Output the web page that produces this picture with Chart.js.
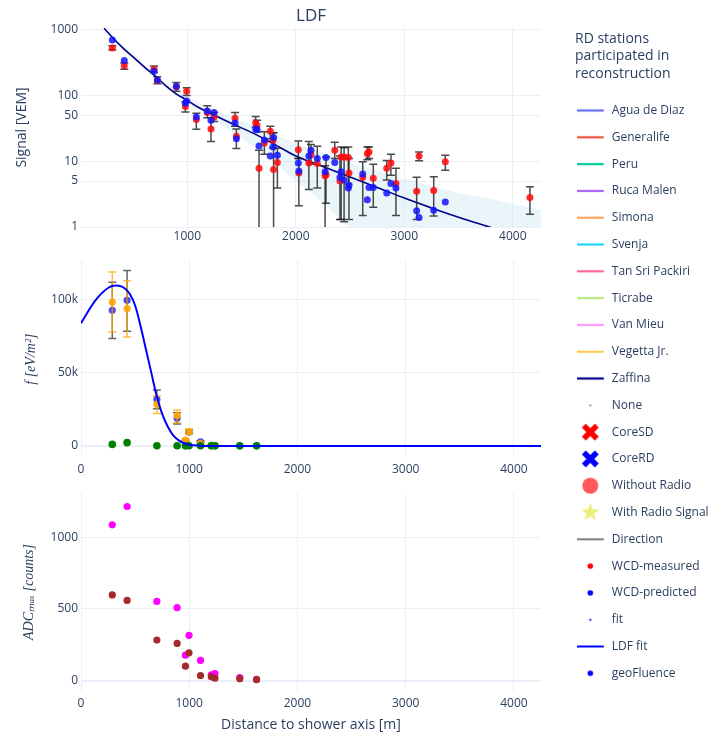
<!DOCTYPE html>
<html lang="en">
<head>
<meta charset="UTF-8">
<title>LDF</title>
<script src="https://cdn.jsdelivr.net/npm/chart.js"></script>
<style>
  body { margin: 0; background: #fff; }
  #wrap { position: relative; width: 712px; height: 735px; }
  #wrap canvas { position: absolute; }
</style>
</head>
<body>
<div id="wrap">
  <canvas id="ldfChart" width="555" height="250" style="left:0px;top:0px"></canvas>
  <canvas id="fluenceChart" width="555" height="230" style="left:0px;top:250px"></canvas>
  <canvas id="adcChart" width="555" height="255" style="left:0px;top:480px"></canvas>
  <canvas id="legendChart" width="157" height="735" style="left:555px;top:0px"></canvas>
</div>
<script>
// --- LDF panel: WCD signals vs distance (log y)
const wcdDist      = [309, 419, 693, 724, 899, 982, 994, 1083, 1184, 1218, 1246, 1440, 1452, 1630, 1643, 1661, 1710, 1765, 1790, 1795, 1830, 2023, 2028, 2120, 2140, 2198, 2270, 2278, 2359, 2407, 2418, 2445, 2484, 2490, 2617, 2659, 2675, 2714, 2838, 2877, 2923, 3114, 3136, 3271, 3378, 4158];
const wcdMeasured  = [528, 282, 251, 168, 135, 68, 116, 43, 55, 31, 47, 45, 24, 38.5, 35, 7.8, 19, 28.5, 20.7, 7.5, 9.6, 15, 6.6, 9.4, 12.5, 9.2, 6.0, 6.3, 14.7, 5.0, 11.6, 11.6, 11.4, 6.6, 5.7, 13.1, 13.8, 5.5, 7.8, 9.4, 4.6, 3.5, 12, 3.6, 9.8, 2.8];
const wcdErrLow    = [490, 250, 225, 151, 116, 56, 100, 30.5, 46, 20, 40, 34, 15.6, 33, 28, 0.1, 12.8, 22, 16, 0.1, 3.9, 11, 2.1, 3.7, 9, 3.9, 0.1, 2.3, 11, 1.3, 1.3, 1.2, 4.5, 1.3, 1.5, 10.5, 11, 2.0, 5.2, 6.1, 1.5, 1.3, 10.2, 1.47, 7.3, 1.56];
const wcdErrHigh   = [570, 310, 280, 193, 157, 80, 131, 53.5, 70, 46, 55, 55, 31, 48, 42, 14.7, 28, 34, 27, 27, 15.8, 20.3, 11, 20, 18, 16.9, 8.5, 11.6, 19.5, 12, 16.5, 16, 16.5, 11, 9.8, 16.5, 16.5, 9.0, 10.3, 12.8, 7.8, 5.7, 13.8, 5.8, 12.3, 4.1];
const wcdPredicted = [698, 339, 234, 172, 138, 76, 82, 47, 58, 42, 55, 38, 22, 31, 30, 17, 21, 12, 16.5, 23, 12.3, 9.4, 7.1, 12, 14.7, 11, 6.9, 11.4, 9.6, 5.7, 6.9, 5.2, 3.9, 4.3, 6.4, 2.6, 4.0, 4.0, 3.3, 4.6, 3.9, 1.77, 1.4, 1.8, 2.4, null];

const fitDist   = [233, 300, 400, 500, 600, 700, 800, 900, 1000, 1100, 1250, 1400, 1600, 1800, 2000, 2250, 2500, 2750, 3000, 3250, 3500, 3800];
const fitSignal = [1050, 794, 537, 385, 275, 200, 141, 105, 84, 66, 50, 38, 27, 18.2, 12, 8.3, 5.75, 4.0, 2.75, 1.95, 1.41, 0.98];

const bandDist  = [233, 300, 500, 750, 1000, 1250, 1500, 1750, 2000, 2250, 2500, 2750, 3000, 3250, 3500, 3750, 4000, 4260];
const bandUpper = [1070, 832, 412, 184, 96.6, 60.3, 41.2, 28.5, 18.6, 13.5, 9.8, 7.2, 5.4, 4.2, 3.3, 2.75, 2.24, 1.82];
const bandLower = [1030, 759, 359, 153, 73.3, 40.7, 22.6, 11.1, 5.0, 2.34, 0.95, 0.4, 0.16, 0.1, 0.1, 0.1, 0.1, 0.1];

const signalTicks  = [1, 5, 10, 50, 100, 1000];
const distTicksTop = [1000, 2000, 3000, 4000];
const distTicks    = [0, 1000, 2000, 3000, 4000];

// --- fluence panel (radio stations)
const rdDist      = [289, 426, 701, 888, 965, 998, 1104, 1204, 1238, 1467, 1622];
const geoFluence  = [92800, 99600, 31900, 18900, 3200, 9400, 2900, 400, 300, 100, 100];
const geoErrLow   = [73500, 78400, 25500, 15000, 2600, 8500, 2400, 200, 100, 0, 0];
const geoErrHigh  = [112000, 120000, 38200, 22700, 3800, 11000, 3400, 600, 500, 200, 200];
const fluence     = [98400, 94000, 28400, 20700, 4100, 9800, 1800, 500, 500, null, null];
const fluErrLow   = [78000, 74500, 22300, 15900, 3300, 8000, 1200, 100, 100, null, null];
const fluErrHigh  = [119000, 113000, 34300, 24600, 4900, 11600, 2400, 900, 900, null, null];
const noiseFluence = [1100, 2300, 200, 150, 100, 150, 150, 100, 100, 100, 100];

const ldfDist    = [0, 50, 100, 150, 200, 250, 300, 350, 400, 450, 500, 550, 600, 650, 700, 750, 800, 850, 900, 950, 1000, 1100, 1200, 1400, 2000, 3000, 4250];
const ldfFluence = [84000, 90000, 96000, 101000, 105000, 108000, 109500, 109500, 108000, 104000, 96000, 82000, 66000, 50000, 34000, 22000, 13500, 7500, 4000, 1900, 800, 200, 50, 0, 0, 0, 0];

const fluenceTicks      = [0, 50000, 100000];
const fluenceTickLabels = ['0', '50k', '100k'];

// --- ADC panel
const adcPeak   = [1086, 1214, 552, 508, 177, 315, 140, 40, 49, 21, 8];
const adcSignal = [597, 559, 282, 259, 100, 193, 35, 26, 16, 12, 7];
const adcTicks  = [0, 500, 1000];

// --- legend
const stationNames  = ['Agua de Diaz', 'Generalife', 'Peru', 'Ruca Malen', 'Simona', 'Svenja', 'Tan Sri Packiri', 'Ticrabe', 'Van Mieu', 'Vegetta Jr.', 'Zaffina'];
const stationColors = ['#636efa', '#ef553b', '#00cc96', '#ab63fa', '#ffa15a', '#19d3f3', '#ff6692', '#b6e880', '#ff97ff', '#fecb52', '#00008b'];

const textColor = '#2a3f5f';
const gridColor = '#ebf0f8';
Chart.defaults.font.family = "'Open Sans', sans-serif";
Chart.defaults.font.size = 12;
Chart.defaults.color = textColor;

function pts(xs, ys) {
  const out = [];
  xs.forEach((x, i) => { if (ys[i] !== null) out.push({ x: x, y: ys[i] }); });
  return out;
}
function bars(xs, lo, hi) {
  const out = [];
  xs.forEach((x, i) => { if (lo[i] !== null) out.push({ x: x, lo: lo[i], hi: hi[i] }); });
  return out;
}
const fixTicks = values => scale => { scale.ticks = values.map(v => ({ value: v })); };

// vertical error bars with caps, drawn under the markers of their dataset
const errorBarPlugin = {
  id: 'errorBars',
  beforeDatasetDraw(chart, args) {
    const ds = chart.data.datasets[args.index];
    if (!ds.errorBars) return;
    const { ctx, chartArea } = chart;
    const xs = chart.scales[args.meta.xAxisID];
    const ys = chart.scales[args.meta.yAxisID];
    ctx.save();
    ctx.beginPath();
    ctx.rect(chartArea.left, chartArea.top, chartArea.right - chartArea.left, chartArea.bottom - chartArea.top);
    ctx.clip();
    ctx.strokeStyle = ds.errorBarColor;
    ctx.lineWidth = 1.5;
    ds.errorBars.forEach(e => {
      const x = xs.getPixelForValue(e.x);
      const y1 = ys.getPixelForValue(e.lo);
      const y2 = ys.getPixelForValue(e.hi);
      ctx.beginPath();
      ctx.moveTo(x, y1); ctx.lineTo(x, y2);
      ctx.moveTo(x - 4, y1); ctx.lineTo(x + 4, y1);
      ctx.moveTo(x - 4, y2); ctx.lineTo(x + 4, y2);
      ctx.stroke();
    });
    ctx.restore();
  }
};

function xAxis(min, max, ticks, height, pad, title) {
  return {
    type: 'linear', min: min, max: max,
    afterBuildTicks: fixTicks(ticks),
    afterFit: s => { s.height = height; },
    ticks: { padding: pad, maxRotation: 0, autoSkip: false, callback: v => String(v) },
    grid: { color: gridColor, drawTicks: false },
    border: { display: false },
    title: title || { display: false }
  };
}
function yAxisGrid(ctx) { return ctx.tick && ctx.tick.value === 0 ? 2 : 1; }

// Chart 1: LDF
new Chart(document.getElementById('ldfChart'), {
  type: 'scatter',
  data: {
    datasets: [
      { label: 'WCD-predicted', data: pts(wcdDist, wcdPredicted), backgroundColor: 'rgba(20,20,255,0.85)', borderWidth: 0, pointRadius: 3.5, order: 1 },
      { label: 'WCD-measured', data: pts(wcdDist, wcdMeasured), backgroundColor: 'rgba(255,10,10,0.85)', borderWidth: 0, pointRadius: 3.5, order: 2,
        errorBars: bars(wcdDist, wcdErrLow, wcdErrHigh), errorBarColor: 'rgba(30,30,30,0.8)' },
      { label: 'fit', data: pts(fitDist, fitSignal), showLine: true, borderColor: '#00008b', borderWidth: 1.6, pointRadius: 0, tension: 0.4, order: 3 },
      { label: 'band', data: pts(bandDist, bandUpper), showLine: true, borderColor: 'transparent', pointRadius: 0, tension: 0.3,
        fill: '+1', backgroundColor: 'rgba(173,216,230,0.25)', order: 4 },
      { label: 'band-low', data: pts(bandDist, bandLower), showLine: true, borderColor: 'transparent', pointRadius: 0, tension: 0.3, order: 5 }
    ]
  },
  options: {
    responsive: false, animation: false,
    layout: { padding: { left: 0, right: 14, top: 6, bottom: 0 } },
    plugins: {
      legend: { display: false }, tooltip: { enabled: false },
      title: { display: true, text: 'LDF', fullSize: false, color: textColor, font: { size: 17, weight: 'normal' }, padding: { top: 0, bottom: 1.6 } }
    },
    scales: {
      x: xAxis(20, 4260, distTicksTop, 23, 2),
      y: {
        type: 'logarithmic', min: 1, max: 1060,
        afterBuildTicks: fixTicks(signalTicks),
        afterFit: s => { s.width = 81; },
        ticks: { padding: 3, autoSkip: false, callback: v => String(v) },
        grid: { color: gridColor, drawTicks: false },
        border: { display: false },
        title: { display: true, text: 'Signal [VEM]', color: textColor, font: { size: 14 }, padding: { top: 13.6, bottom: 0 } }
      }
    }
  },
  plugins: [errorBarPlugin]
});

// Chart 2: radio fluence
new Chart(document.getElementById('fluenceChart'), {
  type: 'scatter',
  data: {
    datasets: [
      { label: 'LDF fit', data: pts(ldfDist, ldfFluence), showLine: true, borderColor: '#0000ff', borderWidth: 2, pointRadius: 0, tension: 0.4, order: 1 },
      { label: 'noise', data: pts(rdDist, noiseFluence), backgroundColor: '#008000', borderWidth: 0, pointRadius: 3.8, order: 2 },
      { label: 'fluence', data: pts(rdDist, fluence), backgroundColor: 'rgba(255,165,0,0.9)', borderWidth: 0, pointRadius: 3.6, order: 3,
        errorBars: bars(rdDist, fluErrLow, fluErrHigh), errorBarColor: 'rgba(255,165,0,0.75)' },
      { label: 'geoFluence', data: pts(rdDist, geoFluence), backgroundColor: 'rgba(30,30,230,0.8)', borderWidth: 0, pointRadius: 3.6, order: 4,
        errorBars: bars(rdDist, geoErrLow, geoErrHigh), errorBarColor: 'rgba(0,0,0,0.6)' }
    ]
  },
  options: {
    responsive: false, animation: false,
    layout: { padding: { left: 0, right: 14, top: 10, bottom: 0 } },
    plugins: { legend: { display: false }, tooltip: { enabled: false } },
    scales: {
      x: xAxis(0, 4250, distTicks, 22, 4),
      y: {
        type: 'linear', min: -8200, max: 127000,
        afterBuildTicks: fixTicks(fluenceTicks),
        afterFit: s => { s.width = 81; },
        ticks: { padding: 3, autoSkip: false, callback: (v, i) => fluenceTickLabels[i] },
        grid: { color: gridColor, drawTicks: false, lineWidth: yAxisGrid },
        border: { display: false },
        title: { display: true, text: 'f [eV/m²]', color: textColor, font: { family: "'Liberation Serif', serif", size: 14, style: 'italic' }, padding: { top: 23, bottom: 0 } }
      }
    }
  },
  plugins: [errorBarPlugin]
});

// Chart 3: ADC maximum
new Chart(document.getElementById('adcChart'), {
  type: 'scatter',
  data: {
    datasets: [
      { label: 'ADC signal', data: pts(rdDist, adcSignal), backgroundColor: '#a52a2a', borderWidth: 0, pointRadius: 3.6, order: 1 },
      { label: 'ADC peak', data: pts(rdDist, adcPeak), backgroundColor: '#ff00ff', borderWidth: 0, pointRadius: 3.6, order: 2 }
    ]
  },
  options: {
    responsive: false, animation: false,
    layout: { padding: { left: 0, right: 14, top: 13, bottom: 0 } },
    plugins: { legend: { display: false }, tooltip: { enabled: false } },
    scales: {
      x: xAxis(0, 4250, distTicks, 44, 5,
        { display: true, text: 'Distance to shower axis [m]', color: textColor, font: { size: 14 }, padding: { top: 4, bottom: 1.6 } }),
      y: {
        type: 'linear', min: -73, max: 1308,
        afterBuildTicks: fixTicks(adcTicks),
        afterFit: s => { s.width = 81; },
        ticks: { padding: 3, autoSkip: false, callback: v => String(v) },
        grid: { color: gridColor, drawTicks: false, lineWidth: yAxisGrid },
        border: { display: false },
        title: { display: true, text: 'ADCₘₐₓ [counts]', color: textColor, font: { family: "'Liberation Serif', serif", size: 14, style: 'italic' }, padding: { top: 21, bottom: 0 } }
      }
    }
  }
});

// Legend markers: small canvases, marker centred at (13.5, 10)
function markerCanvas(draw) {
  const c = document.createElement('canvas');
  c.width = 42; c.height = 20;
  const g = c.getContext('2d');
  g.translate(13.5, 10);
  draw(g);
  return c;
}
const lineMark = (color, w) => markerCanvas(g => {
  g.strokeStyle = color; g.lineWidth = w;
  g.beginPath(); g.moveTo(-13.5, 0); g.lineTo(13.5, 0); g.stroke();
});
const dotMark = (color, r) => markerCanvas(g => {
  g.fillStyle = color;
  g.beginPath(); g.arc(0, 0, r, 0, 2 * Math.PI); g.fill();
});
const crossMark = color => markerCanvas(g => {
  g.strokeStyle = color; g.lineWidth = 5.5;
  g.beginPath(); g.moveTo(-6.5, -6.5); g.lineTo(6.5, 6.5); g.moveTo(6.5, -6.5); g.lineTo(-6.5, 6.5); g.stroke();
});
const starMark = color => markerCanvas(g => {
  g.fillStyle = color;
  g.beginPath();
  for (let i = 0; i < 10; i++) {
    const r = i % 2 ? 4 : 9.5;
    const a = -Math.PI / 2 + i * Math.PI / 5;
    g.lineTo(r * Math.cos(a), r * Math.sin(a));
  }
  g.closePath(); g.fill();
});

const legendItems = stationNames.map((name, i) => ({ text: name, pointStyle: lineMark(stationColors[i], 2.2) })).concat([
  { text: 'None', pointStyle: dotMark('#888888', 1.1) },
  { text: 'CoreSD', pointStyle: crossMark('#ff0000') },
  { text: 'CoreRD', pointStyle: crossMark('#0000ff') },
  { text: 'Without Radio', pointStyle: dotMark('rgba(255,60,60,0.85)', 8) },
  { text: 'With Radio Signal', pointStyle: starMark('rgba(235,235,110,0.9)') },
  { text: 'Direction', pointStyle: lineMark('#555555', 1.5) },
  { text: 'WCD-measured', pointStyle: dotMark('#ff0000', 2.8) },
  { text: 'WCD-predicted', pointStyle: dotMark('#0000ff', 2.8) },
  { text: 'fit', pointStyle: dotMark('#0000ff', 1.1) },
  { text: 'LDF fit', pointStyle: lineMark('#0000ff', 2) },
  { text: 'geoFluence', pointStyle: dotMark('#0000ff', 2.8) }
]);
legendItems.forEach((it, i) => { it.datasetIndex = i; it.hidden = false; it.lineWidth = 0; it.fontColor = textColor; });

new Chart(document.getElementById('legendChart'), {
  type: 'scatter',
  data: { datasets: [] },
  options: {
    responsive: false, animation: false,
    layout: { padding: { left: 20, top: 1, right: 0, bottom: 0 } },
    scales: { x: { display: false }, y: { display: false } },
    plugins: {
      tooltip: { enabled: false },
      legend: {
        position: 'left', align: 'start', onClick: null, maxWidth: 137,
        title: {
          display: true, position: 'start', color: textColor,
          text: ['RD stations', 'participated in', 'reconstruction'],
          font: { size: 14, lineHeight: 1.25 },
          padding: { top: 31, bottom: 40.2 }
        },
        labels: {
          usePointStyle: true, pointStyleWidth: 16, padding: 14.8, color: textColor,
          generateLabels: () => legendItems
        }
      }
    }
  }
});
</script>
</body>
</html>
